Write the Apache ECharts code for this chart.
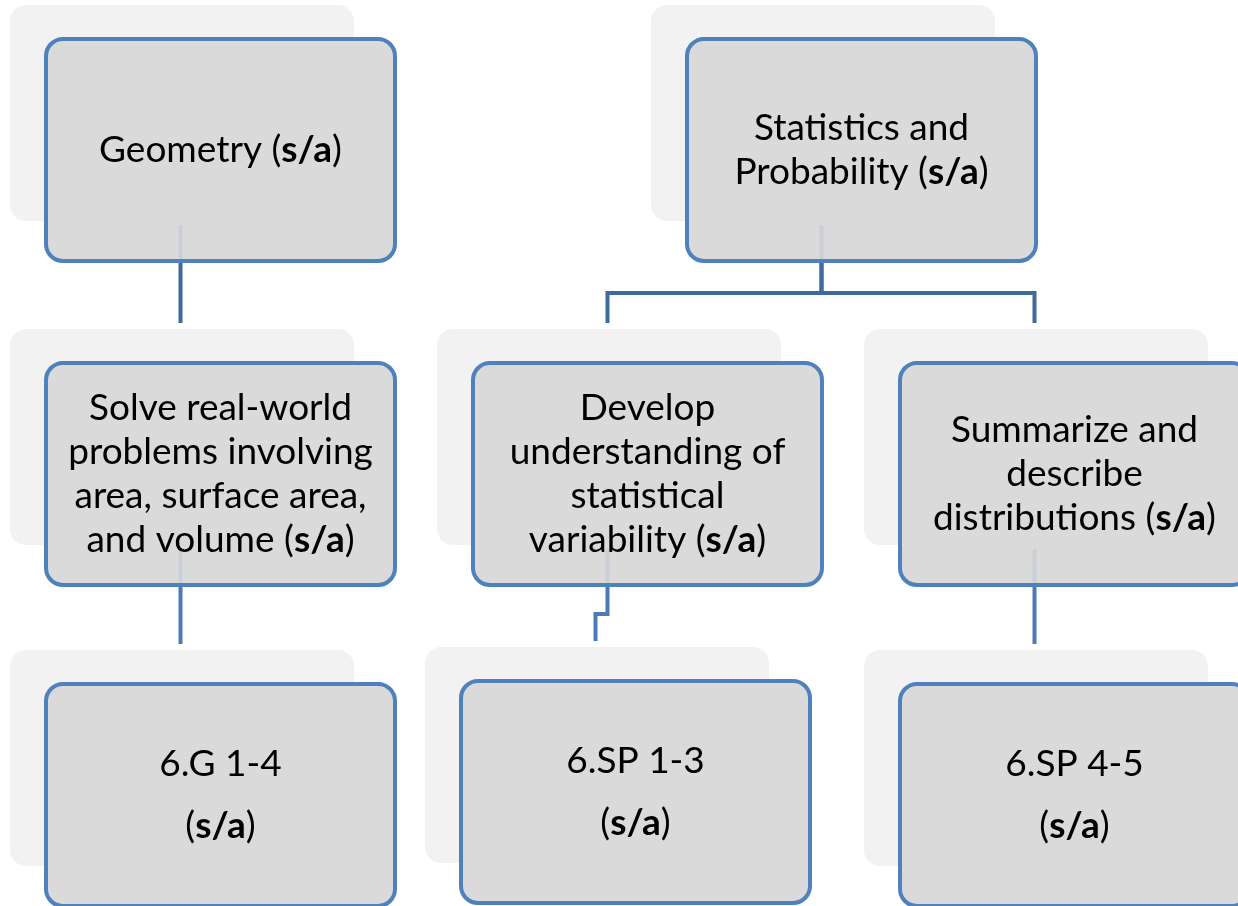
<!DOCTYPE html>
<html>
<head>
<meta charset="utf-8">
<script src="https://cdn.jsdelivr.net/npm/echarts@6/dist/echarts.min.js"></script>
<style>
  html, body { margin: 0; padding: 0; background: #fff; }
  #main { width: 1238px; height: 906px; }
</style>
</head>
<body>
<div id="main"></div>
<script>
// node texts ({b|..} = bold part)
var nodeNames = [
  'Geometry ({b|s/a})',
  'Statistics and\nProbability ({b|s/a})',
  'Solve real-world\nproblems involving\narea, surface area,\nand volume ({b|s/a})',
  'Develop\nunderstanding of\nstatistical\nvariability ({b|s/a})',
  'Summarize and\ndescribe\ndistributions ({b|s/a})',
  '6.G 1-4\n({b|s/a})',
  '6.SP 1-3\n({b|s/a})',
  '6.SP 4-5\n({b|s/a})'
];
// tree structure: parent of each node, -1 = root
var nodeParent = [-1, -1, 0, 1, 1, 2, 3, 4];
var nodeLevel = [0, 0, 1, 1, 1, 2, 2, 2];
// node top-left in diagram units
var nodeX = [46, 687, 46, 473, 900, 46, 461, 900];
var nodeY = [39, 39, 363, 363, 363, 684, 681, 684];

var BOX_W = 349, BOX_H = 222;
var SH_DX = -36, SH_DY = -34, SH_W = 344, SH_H = 216;
var LINK_DX = -40;   // connectors run at the shadow centre
var FONT = 'Lato';
var FONT_SIZE = 37;

var myChart = echarts.init(document.getElementById('main'));

function rect(api, x, y, w, h) {
  var a = api.coord([x, y]);
  var b = api.coord([x + w, y + h]);
  return { x: a[0], y: a[1], width: b[0] - a[0], height: b[1] - a[1] };
}

var hasChild = nodeNames.map(function (n, i) {
  return nodeParent.indexOf(i) >= 0;
});

function renderNode(params, api) {
  var i = api.value(2);
  var x = api.value(0), y = api.value(1);
  var children = [];
  var sh = rect(api, x + SH_DX, y + SH_DY, SH_W, SH_H);
  sh.r = 16;
  children.push({ type: 'rect', shape: sh, style: { fill: '#f2f2f2' } });
  var bx = rect(api, x, y, BOX_W, BOX_H);
  bx.r = 17;
  children.push({ type: 'rect', shape: bx, style: { fill: '#dadada', stroke: '#4f81bd', lineWidth: 4 } });
  if (hasChild[i]) {
    var cx = x + BOX_W / 2 + LINK_DX;
    var s0 = api.coord([cx, y + BOX_H - 36]);
    var s1 = api.coord([cx, y + BOX_H - 2]);
    children.push({ type: 'line', shape: { x1: s0[0], y1: s0[1], x2: s1[0], y2: s1[1] },
      style: { stroke: '#c9ced7', lineWidth: 4 } });
  }
  var c = api.coord([x + BOX_W / 2, y + BOX_H / 2]);
  var lh = nodeLevel[i] === 2 ? 62 : 44;
  children.push({
    type: 'text',
    style: {
      text: nodeNames[i], x: c[0], y: c[1], align: 'center', verticalAlign: 'middle',
      fontFamily: FONT, fontSize: FONT_SIZE, fill: '#000', lineHeight: lh,
      rich: { b: { fontFamily: FONT, fontSize: FONT_SIZE, fontWeight: 'bold', lineHeight: lh, fill: '#000' } }
    }
  });
  return { type: 'group', children: children };
}

function renderLink(params, api) {
  var i = api.value(0);
  var p = nodeParent[i];
  var px = nodeX[p] + BOX_W / 2 + LINK_DX;
  var py = nodeY[p] + BOX_H + 2;
  var cx = nodeX[i] + BOX_W / 2 + LINK_DX;
  var cy = nodeY[i] - 40;
  var my = (py + cy) / 2;
  var pts = [[px, py], [px, my], [cx, my], [cx, cy]].map(function (q) { return api.coord(q); });
  return {
    type: 'polyline',
    shape: { points: pts },
    style: { fill: null, stroke: nodeLevel[p] === 0 ? '#3f6a9c' : '#4a7bb8', lineWidth: 4, lineJoin: 'miter' }
  };
}

var linkData = [];
nodeParent.forEach(function (p, i) { if (p >= 0) linkData.push([i]); });

var option = {
  animation: false,
  grid: { left: 0, right: 0, top: 0, bottom: 0 },
  xAxis: { type: 'value', min: 0, max: 1238, show: false },
  yAxis: { type: 'value', min: 0, max: 906, inverse: true, show: false },
  series: [{
    type: 'custom',
    clip: false,
    renderItem: renderNode,
    data: nodeNames.map(function (n, i) { return [nodeX[i], nodeY[i], i]; }),
    z: 2
  }, {
    type: 'custom',
    clip: false,
    renderItem: renderLink,
    data: linkData,
    z: 3
  }]
};
myChart.setOption(option);
</script>
</body>
</html>
